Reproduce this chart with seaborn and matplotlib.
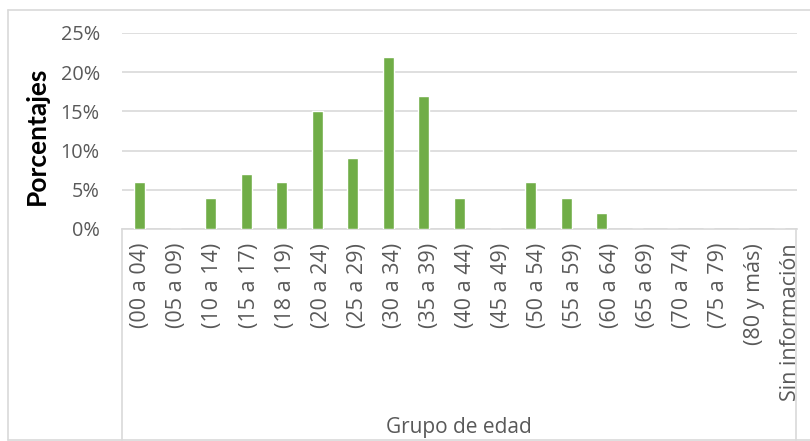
import numpy as np
import pandas as pd
import seaborn as sns
import matplotlib as mpl
from matplotlib import pyplot as plt
from matplotlib.lines import Line2D
from matplotlib.transforms import Bbox, TransformedBbox, ScaledTranslation

# datos
grupos = ['(00 a 04)', '(05 a 09)', '(10 a 14)', '(15 a 17)', '(18 a 19)',
          '(20 a 24)', '(25 a 29)', '(30 a 34)', '(35 a 39)', '(40 a 44)',
          '(45 a 49)', '(50 a 54)', '(55 a 59)', '(60 a 64)', '(65 a 69)',
          '(70 a 74)', '(75 a 79)', '(80 y más)', 'Sin información']
porcentajes = [6, 0, 4, 7, 6, 15, 9, 22, 17, 4, 0, 6, 4, 2, 0, 0, 0, 0, 0]
yticks = [0, 5, 10, 15, 20, 25]

df = pd.DataFrame({'grupo': grupos, 'pct': porcentajes})

sns.set_style('white')
plt.rcParams['font.family'] = ['Open Sans', 'DejaVu Sans']

W, H = 810, 441
fig = plt.figure(figsize=(W / 100, H / 100), dpi=100)
ax = fig.add_axes([122 / W, 1 - 229 / H, (797 - 122) / W, (229 - 33) / H])

sns.barplot(data=df, x='grupo', y='pct', color='#70AD47', width=0.31,
            saturation=1, ax=ax, zorder=3)

grey = '#D9D9D9'
txt = '#595959'
ax.set_ylim(0, 25)
ax.set_yticks(yticks)
ax.set_yticklabels([f'{t}%' for t in yticks])
ax.yaxis.grid(True, color=grey, linewidth=1.2, zorder=0)
ax.set_axisbelow(True)
for s in ['left', 'right', 'top']:
    ax.spines[s].set_visible(False)
ax.spines['bottom'].set_color(grey)
ax.spines['bottom'].set_linewidth(1.2)
ax.tick_params(axis='y', length=0, pad=16, labelsize=14.3, labelcolor=txt)
ax.tick_params(axis='x', length=0, pad=10, labelsize=15.5, labelcolor=txt,
               labelrotation=90)

# en el original las etiquetas se corren un poco a la derecha
# y la última queda cortada por el borde de la caja
clip = TransformedBbox(Bbox([[0, 0], [797 / W, 1]]), fig.transFigure)
for i, lbl in enumerate(ax.get_xticklabels()):
    lbl.set_verticalalignment('top')
    lbl.set_transform(lbl.get_transform() +
                      ScaledTranslation((1 + 0.57 * i) / 100, 0, fig.dpi_scale_trans))
    lbl.set_clip_on(True)
    lbl.set_clip_box(clip)
ax.set_xlabel('')
ax.set_ylabel('')

# caja bajo el eje y borde del gráfico
def fline(x0, y0, x1, y1):
    fig.add_artist(Line2D([x0 / W, x1 / W], [1 - y0 / H, 1 - y1 / H],
                          transform=fig.transFigure, color=grey, lw=1.2))

fline(122, 229, 122, 440)
fline(796, 229, 796, 440)
fline(8, 10, 8, 440)
fline(8, 10, 812, 10)
fline(8, 440, 812, 440)

fig.text(37 / W, 1 - 136 / H, 'Porcentajes', rotation=90, ha='center',
         va='center', fontsize=19, fontweight='bold', color='black',
         family=['Lato', 'DejaVu Sans'])
fig.text(459 / W, 1 - 428 / H, 'Grupo de edad', ha='center', va='center',
         fontsize=15, color=txt)

fig.savefig('out.png', dpi=100)
